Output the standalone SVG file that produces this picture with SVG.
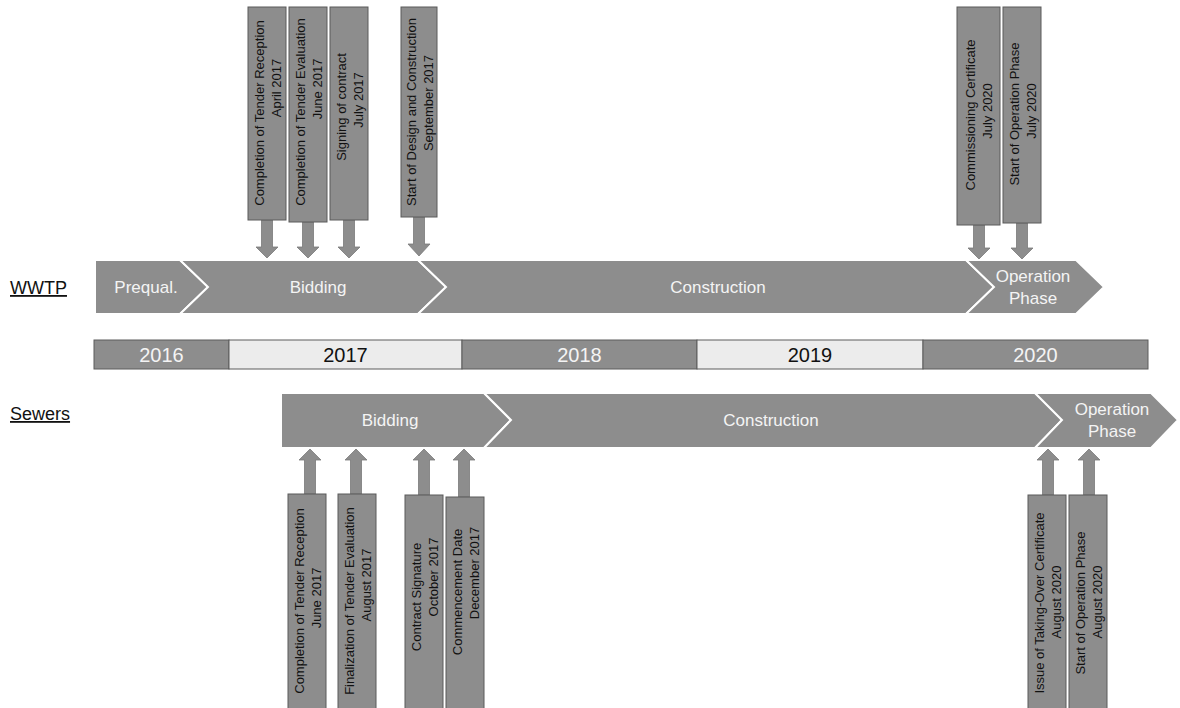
<svg xmlns="http://www.w3.org/2000/svg" width="1180" height="708" viewBox="0 0 1180 708">
<defs>
<style>
.bg{fill:#ffffff}
.chev{fill:#8d8d8d;stroke:#ffffff;stroke-width:2;stroke-linejoin:miter}
.lbl{font-family:"Liberation Sans",Arial,sans-serif;font-size:17px;fill:#f4f4f4;text-anchor:middle;dominant-baseline:central}
.row{font-family:"Liberation Sans",Arial,sans-serif;font-size:18px;fill:#111111;text-decoration:underline}
.yd{fill:#8d8d8d;stroke:#5c5c5c;stroke-width:1}
.yl{fill:#ececec;stroke:#5c5c5c;stroke-width:1}
.ytd{font-family:"Liberation Sans",Arial,sans-serif;font-size:20px;fill:#f4f4f4;text-anchor:middle;dominant-baseline:central}
.ytl{font-family:"Liberation Sans",Arial,sans-serif;font-size:20px;fill:#111111;text-anchor:middle;dominant-baseline:central}
.box{fill:#8d8d8d;stroke:#5a5a5a;stroke-width:1}
.ct{font-family:"Liberation Sans",Arial,sans-serif;font-size:13px;fill:#111111;text-anchor:middle;dominant-baseline:central}
.arr{fill:#8d8d8d;stroke:#7a7a7a;stroke-width:0.8}
</style>
</defs>
<rect class="bg" x="0" y="0" width="1180" height="708"/>

<g id="labels">
<text class="row" x="10" y="294">WWTP</text>
<text class="row" x="10" y="420">Sewers</text>
</g>

<g id="wwtp-phases">
<g id="w-prequal">
<polygon class="chev" points="95,260 180,260 208,287 180,314 95,314"/>
<text class="lbl" x="146" y="287">Prequal.</text>
</g>
<g id="w-bidding">
<polygon class="chev" points="180,260 418,260 446,287 418,314 180,314 208,287"/>
<text class="lbl" x="318" y="287">Bidding</text>
</g>
<g id="w-construction">
<polygon class="chev" points="418,260 966,260 994,287 966,314 418,314 446,287"/>
<text class="lbl" x="718" y="287">Construction</text>
</g>
<g id="w-operation">
<polygon class="chev" points="966,260 1076,260 1104,287 1076,314 966,314 994,287"/>
<text class="lbl" x="1033" y="276">Operation</text>
<text class="lbl" x="1033" y="298">Phase</text>
</g>
</g>

<g id="years">
<g id="y2016"><rect class="yd" x="94" y="340" width="135" height="29"/><text class="ytd" x="161.5" y="355">2016</text></g>
<g id="y2017"><rect class="yl" x="229" y="340" width="233" height="29"/><text class="ytl" x="345.5" y="355">2017</text></g>
<g id="y2018"><rect class="yd" x="462" y="340" width="235" height="29"/><text class="ytd" x="579.5" y="355">2018</text></g>
<g id="y2019"><rect class="yl" x="697" y="340" width="226" height="29"/><text class="ytl" x="810" y="355">2019</text></g>
<g id="y2020"><rect class="yd" x="923" y="340" width="225" height="29"/><text class="ytd" x="1035.5" y="355">2020</text></g>
</g>

<g id="sewers-phases">
<g id="s-bidding">
<polygon class="chev" points="281,393 484,393 511,420 484,448 281,448"/>
<text class="lbl" x="390" y="420">Bidding</text>
</g>
<g id="s-construction">
<polygon class="chev" points="484,393 1035,393 1062,420 1035,448 484,448 511,420"/>
<text class="lbl" x="771" y="420">Construction</text>
</g>
<g id="s-operation">
<polygon class="chev" points="1035,393 1151,393 1178,420 1151,448 1035,448 1062,420"/>
<text class="lbl" x="1112" y="409">Operation</text>
<text class="lbl" x="1112" y="431">Phase</text>
</g>
</g>

<g id="connectors">
<polygon class="arr" points="261.5,220 272.5,220 272.5,247 278,247 267,258 256,247 261.5,247"/>
<polygon class="arr" points="302.5,222 313.5,222 313.5,247 319,247 308,258 297,247 302.5,247"/>
<polygon class="arr" points="343.5,220 354.5,220 354.5,247 360,247 349,258 338,247 343.5,247"/>
<polygon class="arr" points="413.5,217 424.5,217 424.5,244 430,244 419,256 408,244 413.5,244"/>
<polygon class="arr" points="973.5,225 984.5,225 984.5,248 990,248 979,259 968,248 973.5,248"/>
<polygon class="arr" points="1016.5,223 1027.5,223 1027.5,248 1033,248 1022,259 1011,248 1016.5,248"/>

<polygon class="arr" points="304.5,494 315.5,494 315.5,460 321,460 310,449 299,460 304.5,460"/>
<polygon class="arr" points="350.5,494 361.5,494 361.5,460 367,460 356,449 345,460 350.5,460"/>
<polygon class="arr" points="418.5,495 429.5,495 429.5,460 435,460 424,449 413,460 418.5,460"/>
<polygon class="arr" points="458.5,497 469.5,497 469.5,460 475,460 464,449 453,460 458.5,460"/>
<polygon class="arr" points="1042.5,495 1053.5,495 1053.5,460 1059,460 1048,449 1037,460 1042.5,460"/>
<polygon class="arr" points="1083.5,495 1094.5,495 1094.5,460 1100,460 1089,449 1078,460 1083.5,460"/>
</g>

<g id="w-m1">
<rect class="box" x="248" y="7" width="38" height="213"/>
<text class="ct" transform="translate(259,113) rotate(-90)">Completion of Tender Reception</text>
<text class="ct" transform="translate(276,88) rotate(-90)">April 2017</text>
</g>
<g id="w-m2">
<rect class="box" x="289" y="7" width="38" height="215"/>
<text class="ct" transform="translate(300,112) rotate(-90)">Completion of Tender Evaluation</text>
<text class="ct" transform="translate(317,89) rotate(-90)">June 2017</text>
</g>
<g id="w-m3">
<rect class="box" x="330" y="7" width="38" height="213"/>
<text class="ct" transform="translate(341,107) rotate(-90)">Signing of contract</text>
<text class="ct" transform="translate(358,100) rotate(-90)">July 2017</text>
</g>
<g id="w-m4">
<rect class="box" x="401" y="7" width="36" height="210"/>
<text class="ct" transform="translate(411,112) rotate(-90)">Start of Design and Construction</text>
<text class="ct" transform="translate(428,103) rotate(-90)">September 2017</text>
</g>
<g id="w-m5">
<rect class="box" x="957" y="7" width="43" height="218"/>
<text class="ct" transform="translate(970,115) rotate(-90)">Commissioning Certificate</text>
<text class="ct" transform="translate(987,111) rotate(-90)">July 2020</text>
</g>
<g id="w-m6">
<rect class="box" x="1003" y="7" width="38" height="216"/>
<text class="ct" transform="translate(1014,114) rotate(-90)">Start of Operation Phase</text>
<text class="ct" transform="translate(1031,111) rotate(-90)">July 2020</text>
</g>

<g id="s-m1">
<rect class="box" x="288" y="494" width="38" height="220"/>
<text class="ct" transform="translate(299,601) rotate(-90)">Completion of Tender Reception</text>
<text class="ct" transform="translate(316,598) rotate(-90)">June 2017</text>
</g>
<g id="s-m2">
<rect class="box" x="338" y="494" width="38" height="220"/>
<text class="ct" transform="translate(349,601) rotate(-90)">Finalization of Tender Evaluation</text>
<text class="ct" transform="translate(366,585) rotate(-90)">August 2017</text>
</g>
<g id="s-m3">
<rect class="box" x="405" y="495" width="38" height="220"/>
<text class="ct" transform="translate(416,597) rotate(-90)">Contract Signature</text>
<text class="ct" transform="translate(433,577) rotate(-90)">October 2017</text>
</g>
<g id="s-m4">
<rect class="box" x="446" y="497" width="38" height="220"/>
<text class="ct" transform="translate(457,592) rotate(-90)">Commencement Date</text>
<text class="ct" transform="translate(474,573) rotate(-90)">December 2017</text>
</g>
<g id="s-m5">
<rect class="box" x="1028" y="495" width="38" height="220"/>
<text class="ct" transform="translate(1039,603) rotate(-90)">Issue of Taking-Over Certificate</text>
<text class="ct" transform="translate(1056,602) rotate(-90)">August 2020</text>
</g>
<g id="s-m6">
<rect class="box" x="1069" y="495" width="38" height="220"/>
<text class="ct" transform="translate(1080,603) rotate(-90)">Start of Operation Phase</text>
<text class="ct" transform="translate(1097,602) rotate(-90)">August 2020</text>
</g>
</svg>
